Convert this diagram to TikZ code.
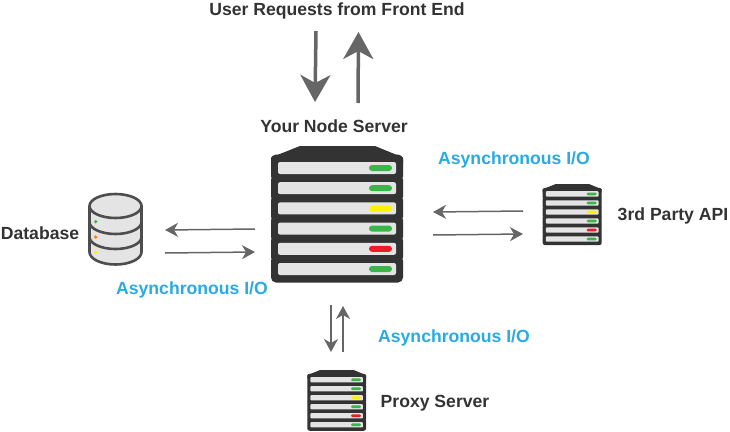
\documentclass[tikz,border=0pt]{standalone}
\usepackage{fontspec}
\setmainfont{Liberation Sans}
\usetikzlibrary{arrows.meta}

\definecolor{srvdark}{HTML}{333333}
\definecolor{srvbar}{HTML}{E4E4E4}
\definecolor{ledgreen}{HTML}{39B54A}
\definecolor{ledyellow}{HTML}{FFF200}
\definecolor{ledred}{HTML}{ED1C24}
\definecolor{arrowgrey}{HTML}{666666}
\definecolor{dbline}{HTML}{4D4D4D}
\definecolor{asyncblue}{HTML}{29ABE2}

\tikzset{
    title/.style={font=\bfseries\fontsize{17.6}{20}\selectfont, text=srvdark, inner sep=0pt},
    async/.style={font=\bfseries\fontsize{17.6}{20}\selectfont, text=asyncblue, inner sep=0pt},
    bigarrow/.style={draw=arrowgrey, line width=3.5pt, -{Stealth[length=27pt, width=30pt, inset=8pt]}},
    smallarrow/.style={draw=arrowgrey, line width=1.5pt, -{Stealth[length=13pt, width=14pt, inset=4pt]}}
}

% name, centre x, centre y, scale
\newcommand{\serverbox}[4]{
    \node[inner sep=0pt, minimum width=#4*132pt, minimum height=#4*137pt] (#1) at (#2,#3) {};
    \pgfmathsetmacro{\rout}{#4*5}
    \pgfmathsetmacro{\rbar}{#4*2}
    \pgfmathsetmacro{\rled}{#4*3}
    \begin{scope}[shift={(#2,#3)}, scale=#4]
        % Top of the case
        \fill[srvdark] (-66,-50) -- (-66,-57) -- (-37,-68.5) -- (38,-68.5) -- (66,-57) -- (66,-50) -- cycle;
        % Units
        \foreach \i in {0,...,5} {
            \fill[srvdark, rounded corners=\rout pt] (-66,-60+20.2*\i) rectangle (66,-33+20.2*\i);
        }
        \foreach \i/\led in {0/ledgreen,1/ledgreen,2/ledyellow,3/ledgreen,4/ledred,5/ledgreen} {
            \fill[srvbar, rounded corners=\rbar pt] (-59,-52.5+20.2*\i) rectangle (59,-40.5+20.2*\i);
            \fill[\led, rounded corners=\rled pt] (32,-49.5+20.2*\i) rectangle (55,-43.5+20.2*\i);
        }
    \end{scope}
}

\begin{document}
\begin{tikzpicture}[x=1pt, y=-1pt]
    \useasboundingbox (0,0) rectangle (730,431);

    % Servers
    \serverbox{main}{337}{214.5}{1}
    \serverbox{api}{572.2}{214.7}{0.447}
    \serverbox{proxy}{336.7}{400.5}{0.445}

    % Database
    \node[inner sep=0pt, minimum width=55pt, minimum height=73pt] (db) at (115.5,229.5) {};
    \draw[dbline, line width=2.6pt, fill=srvbar] (89.5,206) -- (89.5,252) arc[start angle=180, end angle=360, x radius=26, y radius=-12.5] -- (141.5,206);
    \draw[dbline, line width=2.6pt, fill=srvbar] (115.5,206) ellipse[x radius=26, y radius=12];
    \foreach \y in {222,237}
        \draw[dbline, line width=2.6pt] (89.5,\y) arc[start angle=180, end angle=360, x radius=26, y radius=-12];
    \foreach \y/\c in {221.7/ledgreen,237/orange,252/ledyellow}
        \fill[\c] (95.7,\y) circle (1.8);

    % Labels
    \node[title] (front) at (337,10.5) {User Requests from Front End};
    \node[title] (yours) at (334,126) {Your Node Server};
    \node[title] (dbname) at (40,233.5) {Database};
    \node[title] (apiname) at (673,215.5) {3rd Party API};
    \node[title] (proxyname) at (435,403.5) {Proxy Server};
    \node[async] (asyncapi) at (514,159.5) {Asynchronous I/O};
    \node[async] (asyncdb) at (192,289.5) {Asynchronous I/O};
    \node[async] (asyncproxy) at (454,337.5) {Asynchronous I/O};

    % Ends of the connectors
    \coordinate (frontin) at (316,31);
    \coordinate (frontintip) at (315,102);
    \coordinate (frontout) at (358,103);
    \coordinate (frontouttip) at (358.5,32);
    \coordinate (dbout) at (255,229);
    \coordinate (dbouttip) at (165,230);
    \coordinate (dbin) at (165,253);
    \coordinate (dbintip) at (255,252);
    \coordinate (apiin) at (523,211);
    \coordinate (apiintip) at (433,212);
    \coordinate (apiout) at (433,235);
    \coordinate (apiouttip) at (523,234);
    \coordinate (proxyout) at (331,305);
    \coordinate (proxyouttip) at (331,352);
    \coordinate (proxyin) at (343,352);
    \coordinate (proxyintip) at (343,306);

    % Connect front end to main server
    \draw[bigarrow] (frontin) -- (frontintip);
    \draw[bigarrow] (frontout) -- (frontouttip);

    % Connect the others to main server
    \foreach \a/\b in {dbout/dbouttip,dbin/dbintip,apiin/apiintip,apiout/apiouttip,proxyout/proxyouttip,proxyin/proxyintip}
        \draw[smallarrow] (\a) -- (\b);
\end{tikzpicture}
\end{document}
